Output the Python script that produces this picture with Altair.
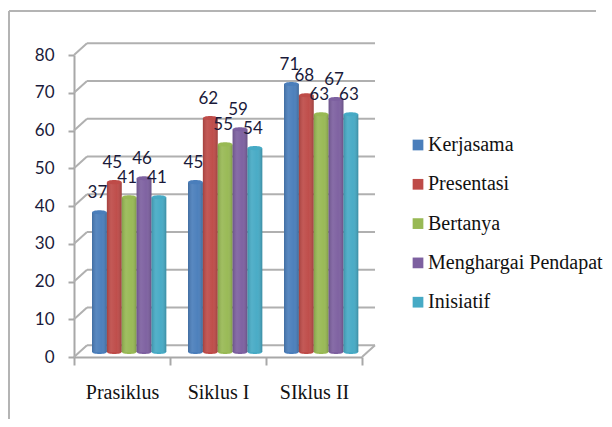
import altair as alt
import pandas as pd

categories = ["Prasiklus", "Siklus I", "SIklus II"]
series = ["Kerjasama", "Presentasi", "Bertanya", "Menghargai Pendapat", "Inisiatif"]
colors = ["#4a7ebb", "#be4b48", "#98b954", "#7d60a0", "#46aac5"]
values = {
    "Kerjasama": [37, 45, 71],
    "Presentasi": [45, 62, 68],
    "Bertanya": [41, 55, 63],
    "Menghargai Pendapat": [46, 59, 67],
    "Inisiatif": [41, 54, 63],
}
ticks = [0, 10, 20, 30, 40, 50, 60, 70, 80]

rows = [{"cat": c, "s": s, "v": values[s][i], "o": series.index(s)}
        for s in series for i, c in enumerate(categories)]
df = pd.DataFrame(rows)
df["zero"] = 0
grid = pd.DataFrame({"t": ticks})
grid["back"] = grid["t"] + 3.1

W, H = 288, 302
DEPTH = 13
GREY = "#b0b0b0"
AX = "#a8a8a8"

x_enc = alt.X("cat:N", sort=categories, title=None,
              scale=alt.Scale(paddingInner=0, paddingOuter=0),
              axis=alt.Axis(labelAngle=0, labelFont="Liberation Serif", labelFontSize=20,
                            labelColor="#111111", labelPadding=17, tickBand="extent",
                            tickSize=8, tickColor=AX, tickWidth=2, domainColor=AX,
                            domainWidth=2, grid=False))
xo = alt.XOffset("s:N", sort=series,
                 scale=alt.Scale(paddingInner=0, paddingOuter=0.73, align=0.83))
yscale = alt.Scale(domain=[0, 80], nice=False)
yaxis = alt.Axis(values=ticks, labelFont="Lato", labelFontSize=17,
                 labelColor="#1a1a3a", labelPadding=14, tickSize=6, tickColor=AX,
                 tickWidth=2, domainColor=AX, domainWidth=2, grid=False)
y_enc = alt.Y("v:Q", title=None, scale=yscale, axis=yaxis)
color = alt.Color("s:N", sort=series, title=None,
                  scale=alt.Scale(domain=series, range=colors),
                  legend=alt.Legend(orient="none", legendX=334, legendY=80, symbolType="square",
                                    symbolSize=115, symbolStrokeWidth=0, labelFont="Liberation Serif",
                                    labelFontSize=20, labelColor="#111111", labelLimit=260,
                                    rowPadding=19.3, labelOffset=0, padding=0))

frame_top = alt.Chart(pd.DataFrame({"a": [0]})).mark_rule(color="#b4b4b4", strokeWidth=2, clip=False).encode(
    x=alt.value(-65), x2=alt.value(522), y=alt.value(-44))
frame_left = alt.Chart(pd.DataFrame({"a": [0]})).mark_rule(color="#b4b4b4", strokeWidth=2, clip=False).encode(
    x=alt.value(-65), y=alt.value(-44), y2=alt.value(H + 62))

back_lines = alt.Chart(grid).mark_rule(color=GREY, strokeWidth=2, clip=False).encode(
    x=alt.value(DEPTH), x2=alt.value(W + DEPTH),
    y=alt.Y("back:Q", title=None, scale=yscale, axis=yaxis))
diag_left = alt.Chart(grid).mark_rule(color=GREY, strokeWidth=2, clip=False).encode(
    x=alt.value(0), x2=alt.value(DEPTH),
    y=alt.Y("t:Q", title=None, scale=yscale, axis=yaxis),
    y2="back:Q")
diag_right = alt.Chart(grid[grid.t == 0]).mark_rule(color=GREY, strokeWidth=2, clip=False).encode(
    x=alt.value(W), x2=alt.value(W + DEPTH),
    y=alt.Y("t:Q", title=None, scale=yscale, axis=yaxis),
    y2="back:Q")

base = alt.Chart(df)
SHIFT = -5
bars = base.mark_bar(yOffset=SHIFT, y2Offset=SHIFT).encode(
    x=x_enc, xOffset=xo, y=y_enc, y2="zero:Q", color=color)
shade = base.mark_bar(
    yOffset=SHIFT, y2Offset=SHIFT,
    color=alt.Gradient(gradient="linear", x1=0, x2=1, y1=0, y2=0, stops=[
        alt.GradientStop(offset=0, color="rgba(0,0,0,0.14)"),
        alt.GradientStop(offset=0.3, color="rgba(255,255,255,0.08)"),
        alt.GradientStop(offset=0.65, color="rgba(255,255,255,0.02)"),
        alt.GradientStop(offset=1, color="rgba(0,0,0,0.18)"),
    ])).encode(x=x_enc, xOffset=xo, y=y_enc, y2="zero:Q")
ELL = "M-1,0 A1,0.28 0 1 1 1,0 A1,0.28 0 1 1 -1,0 Z"
caps = base.mark_point(shape=ELL, filled=True, size=210, opacity=1, yOffset=SHIFT).encode(
    x=x_enc, xOffset=xo, y=y_enc, color=color)
feet = base.mark_point(shape=ELL, filled=True, size=210, opacity=1, yOffset=SHIFT).encode(
    x=x_enc, xOffset=xo, y=alt.Y("zero:Q", title=None, scale=yscale, axis=yaxis),
    color=color)
labels = base.mark_text(font="Lato", fontSize=17, color="#1a1a3a", dx=-2, dy=-24, baseline="middle").encode(
    x=x_enc, xOffset=xo, y=y_enc, text="v:Q")

chart = alt.layer(frame_top, frame_left, back_lines, diag_left, diag_right,
                  feet, bars, shade, caps, labels).properties(
    width=W, height=H,
    autosize=alt.AutoSizeParams(type="none"),
    padding={"left": 66, "top": 47, "right": 242, "bottom": 62},
    background="white",
).configure_view(stroke=None)

chart.save("out.html", embed_options={"renderer": "svg", "actions": False})
